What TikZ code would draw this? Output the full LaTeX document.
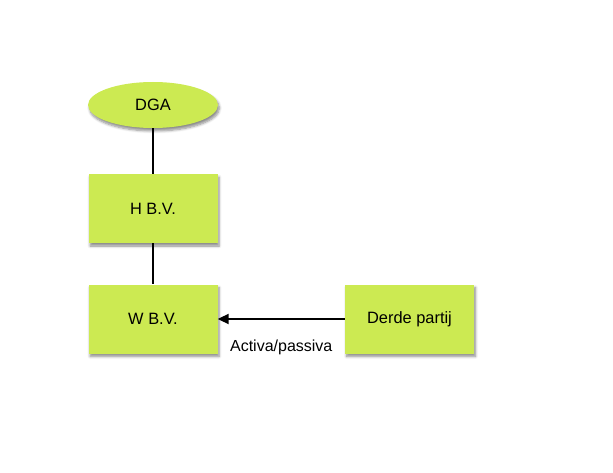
\documentclass[tikz,border=0pt]{standalone}
\usepackage{fontspec}
\setmainfont{Liberation Sans}
\usetikzlibrary{shapes.geometric,arrows.meta,shadows.blur}
\definecolor{lime}{HTML}{CCEA52}
\tikzset{
  sh/.style={blur shadow={shadow blur steps=6, shadow xshift=1.5pt, shadow yshift=-3pt, shadow opacity=45, shadow blur radius=2.5pt}},
  boxnode/.style={rectangle, fill=lime, minimum width=129pt, minimum height=69pt, inner sep=0pt, sh, font=\fontsize{16.4pt}{19pt}\selectfont},
  ellnode/.style={ellipse, fill=lime, minimum width=130pt, minimum height=46pt, inner sep=0pt, sh, font=\fontsize{16.4pt}{19pt}\selectfont},
  conn/.style={line width=2pt, black},
  lbl/.style={font=\fontsize{16pt}{19pt}\selectfont}
}
\begin{document}
\begin{tikzpicture}[x=1pt,y=-1pt]
\useasboundingbox (0,0) rectangle (613,473);
\node[ellnode] (dga) at (153,105) {DGA};
\node[boxnode] (hbv) at (153,208.5) {H B.V.};
\node[boxnode] (wbv) at (153,319) {W B.V.};
\node[boxnode] (dp) at (409.5,319) {Derde partij};
\draw[conn] (dga) -- (hbv);
\draw[conn] (hbv) -- (wbv);
\draw[conn, -{Triangle[length=11pt,width=10pt]}] (dp) -- (wbv) node[midway, lbl, yshift=-28pt] (ap) {Activa/passiva};
\end{tikzpicture}
\end{document}
